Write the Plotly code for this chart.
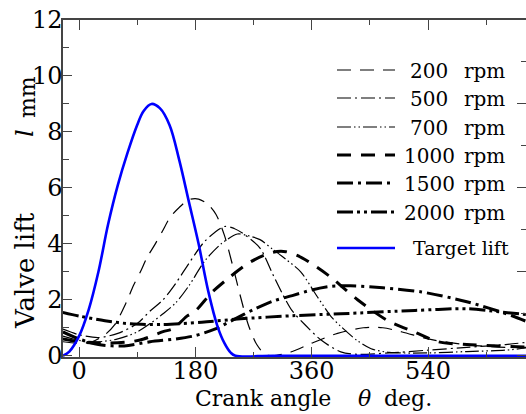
import plotly.graph_objects as go

# ---------------- data ----------------
target_deg = [-25, -15, 0, 15, 30, 45, 60, 75, 90, 100, 112, 125, 140, 155, 170, 185, 200, 214, 225, 235, 242, 300, 400, 500, 600, 700]
target_lift = [0, 0.15, 0.7, 1.65, 3.0, 4.7, 6.1, 7.25, 8.25, 8.75, 9.0, 8.85, 8.25, 7.0, 5.5, 4.0, 2.3, 1.07, 0.45, 0.1, 0, 0, 0, 0, 0, 0]

rpm200_deg = [-25, 0, 20, 40, 55, 73, 84, 95, 105, 118, 129, 141, 155, 170, 185, 200, 212, 225, 238, 250, 262, 275, 288, 300, 330, 360, 400, 440, 470, 500, 540, 580, 620, 660, 700]
rpm200 = [0.5, 0.45, 0.5, 0.75, 1.1, 1.9, 2.5, 3.0, 3.5, 4.0, 4.45, 4.95, 5.3, 5.58, 5.6, 5.4, 5.05, 4.3, 3.2, 2.1, 1.1, 0.4, 0.05, 0.0, 0.15, 0.45, 0.8, 1.0, 1.0, 0.85, 0.6, 0.45, 0.35, 0.3, 0.3]

rpm500_deg = [-25, 0, 30, 60, 90, 110, 130, 150, 170, 195, 225, 240, 255, 280, 300, 315, 330, 350, 375, 405, 430, 480, 540, 600, 660, 700]
rpm500 = [0.95, 0.75, 0.65, 0.8, 1.15, 1.6, 2.0, 2.6, 3.3, 4.1, 4.62, 4.55, 4.35, 3.85, 2.9, 2.2, 1.6, 1.1, 0.55, 0.14, 0.05, 0.1, 0.2, 0.3, 0.4, 0.5]

rpm700_deg = [-25, 0, 30, 60, 90, 110, 130, 150, 170, 195, 220, 245, 260, 280, 300, 320, 343, 369, 390, 405, 430, 452, 480, 540, 600, 660, 700]
rpm700 = [0.7, 0.55, 0.5, 0.6, 0.85, 1.15, 1.5, 1.9, 2.5, 3.4, 4.0, 4.35, 4.3, 4.15, 3.8, 3.45, 3.0, 2.1, 1.4, 1.05, 0.55, 0.25, 0.12, 0.1, 0.15, 0.2, 0.3]

rpm1000_deg = [-25, 0, 40, 80, 100, 130, 146, 166, 180, 205, 230, 265, 300, 320, 345, 390, 431, 478, 519, 556, 600, 650, 700]
rpm1000 = [0.6, 0.5, 0.45, 0.5, 0.6, 0.86, 0.97, 1.4, 1.6, 2.25, 2.75, 3.35, 3.7, 3.72, 3.5, 2.8, 2.0, 1.25, 0.85, 0.5, 0.4, 0.35, 0.3]

rpm1500_deg = [-25, 0, 30, 70, 110, 150, 180, 210, 240, 270, 300, 330, 360, 390, 420, 470, 530, 600, 670, 700]
rpm1500 = [0.85, 0.6, 0.4, 0.35, 0.5, 0.6, 0.72, 0.95, 1.3, 1.65, 1.95, 2.15, 2.35, 2.48, 2.5, 2.43, 2.28, 1.93, 1.43, 1.15]

rpm2000_deg = [-25, 0, 40, 80, 130, 190, 250, 330, 405, 520, 600, 650, 700]
rpm2000 = [1.55, 1.42, 1.25, 1.14, 1.12, 1.2, 1.32, 1.43, 1.5, 1.62, 1.68, 1.57, 1.45]

legend_numbers = ["200", "500", "700", "1000", "1500", "2000"]
x_ticks = [0, 180, 360, 540]
y_ticks = [0, 2, 4, 6, 8, 10, 12]

# ---------------- styling ----------------
FONT = "DejaVu Serif"
W, H = 526, 414
L, R, T, B = 63, 0, 20, 57
PW, PH = W - L - R, H - T - B

def px(x):
    return (x - L) / PW

def py(y):
    return (H - B - y) / PH

styles = [
    dict(width=1.2, dash="14px,9px"),
    dict(width=1.2, dash="14px,4px,2px,4px"),
    dict(width=1.2, dash="14px,3px,1.5px,3px,1.5px,3px"),
    dict(width=3, dash="14px,10px"),
    dict(width=3, dash="16px,5px,3px,5px"),
    dict(width=3, dash="16px,4px,3px,4px,3px,4px"),
]
series = [(rpm200_deg, rpm200), (rpm500_deg, rpm500), (rpm700_deg, rpm700),
          (rpm1000_deg, rpm1000), (rpm1500_deg, rpm1500), (rpm2000_deg, rpm2000)]

fig = go.Figure()
for (xs, ys), st in zip(series, styles):
    fig.add_trace(go.Scatter(x=xs, y=ys, mode="lines",
                             line=dict(color="black", width=st["width"], dash=st["dash"],
                                       shape="spline", smoothing=0.8),
                             showlegend=False, hoverinfo="skip"))
fig.add_trace(go.Scatter(x=target_deg, y=target_lift, mode="lines",
                         line=dict(color="#0000ff", width=2.6, shape="spline", smoothing=1.0),
                         showlegend=False, hoverinfo="skip"))
# invisible trace for right axis
fig.add_trace(go.Scatter(x=[0], y=[0], yaxis="y2", mode="markers",
                         marker=dict(opacity=0), showlegend=False, hoverinfo="skip"))

AX = "#444444"
fig.update_layout(
    width=W, height=H,
    margin=dict(l=L, r=R, t=T, b=B, pad=0),
    paper_bgcolor="white", plot_bgcolor="white",
    font=dict(family=FONT, size=24, color="black"),
    xaxis=dict(range=[-24.8, 691.6], tickvals=x_ticks, ticks="inside", ticklen=10,
               tickcolor=AX, tickwidth=1.2, showline=True, linecolor=AX, linewidth=1.5,
               mirror="ticks", showgrid=False, zeroline=False,
               minor=dict(dtick=90, tick0=0, ticks="inside", ticklen=5, tickcolor=AX, showgrid=False),
               tickfont=dict(family=FONT, size=24), ticklabelstandoff=-9, automargin=False),
    yaxis=dict(range=[-0.045, 12], tickvals=y_ticks, ticks="inside", ticklen=9,
               tickcolor=AX, tickwidth=1.2, showline=True, linecolor=AX, linewidth=1.5,
               showgrid=False, zeroline=False,
               minor=dict(dtick=1, tick0=0, ticks="inside", ticklen=6, tickcolor=AX, showgrid=False),
               tickfont=dict(family=FONT, size=24), ticklabelstandoff=-6, automargin=False),
    yaxis2=dict(range=[-0.015, 4], overlaying="y", side="right", dtick=1, ticks="inside", ticklen=9,
                tickcolor=AX, tickwidth=1.2, showticklabels=False, showgrid=False,
                zeroline=False, showline=False,
                minor=dict(dtick=0.5, ticks="inside", ticklen=5, tickcolor=AX, showgrid=False)),
)

# axis titles as annotations (pieces placed like the reference)
ann = [
    dict(text="Crank angle", x=px(263), y=py(398), size=22),
    dict(text="<i>θ</i>", x=px(364), y=py(398), size=22),
    dict(text="deg.", x=px(408), y=py(398), size=22),
    dict(text="Valve lift", x=px(25), y=py(271), textangle=-90, size=26),
    dict(text="<i>l</i>", x=px(25), y=py(133), textangle=-90, size=24),
    dict(text="mm", x=px(27), y=py(97), textangle=-90, size=22),
]
for a in ann:
    size = a.pop("size")
    a.update(xref="paper", yref="paper", showarrow=False, xanchor="center", yanchor="middle",
             font=dict(family=FONT, size=size, color="black"))
    fig.add_annotation(**a)

# manual legend
rows = [70, 98, 127, 155, 183, 212, 248]
for i, (num, st) in enumerate(zip(legend_numbers, styles)):
    y = rows[i]
    fig.add_shape(type="line", xref="paper", yref="paper", x0=px(337), x1=px(395),
                  y0=py(y), y1=py(y), line=dict(color="black", width=st["width"], dash=st["dash"]))
    fig.add_annotation(text=num, x=px(429), y=py(y + 1), xref="paper", yref="paper",
                       showarrow=False, xanchor="center", yanchor="middle",
                       font=dict(family=FONT, size=20, color="black"))
    fig.add_annotation(text="rpm", x=px(462), y=py(y + 1), xref="paper", yref="paper",
                       showarrow=False, xanchor="left", yanchor="middle",
                       font=dict(family=FONT, size=20, color="black"))
fig.add_shape(type="line", xref="paper", yref="paper", x0=px(337), x1=px(395),
              y0=py(rows[6]), y1=py(rows[6]), line=dict(color="#0000ff", width=2.6))
fig.add_annotation(text="Target lift", x=px(411), y=py(rows[6]), xref="paper", yref="paper",
                   showarrow=False, xanchor="left", yanchor="middle",
                   font=dict(family=FONT, size=19, color="black"))

fig.write_html("out.html")
